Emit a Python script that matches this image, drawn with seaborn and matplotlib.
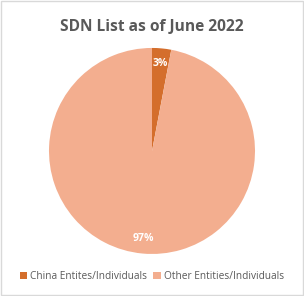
import matplotlib
matplotlib.use("Agg")
import matplotlib.pyplot as plt
import seaborn as sns
from matplotlib.patches import Rectangle

categories = ["China Entites/Individuals", "Other Entities/Individuals"]
values = [3, 97]
title = "SDN List as of June 2022"

sns.set_style("white")
plt.rcParams['font.family'] = ['Open Sans', 'DejaVu Sans']
colors = sns.color_palette(["#D46E2C", "#F3AE8F"])

fig = plt.figure(figsize=(3.04, 2.96), dpi=100)
fig.patch.set_facecolor("white")
ax = fig.add_axes([0.5 - 0.339, 0.49 - 0.348, 0.678, 0.696])

wedges, texts, autotexts = ax.pie(
    values, colors=colors, startangle=90, counterclock=False,
    autopct=lambda p: f"{p:.0f}%", pctdistance=0.85,
    wedgeprops=dict(linewidth=0),
    textprops=dict(color="white", fontsize=7.5, fontweight="bold"))
ax.set_xlim(-1, 1)
ax.set_ylim(-1, 1)
ax.set_aspect("equal")

fig.text(0.5, 0.91, title, ha="center", va="center", fontsize=11.2,
         fontweight="bold", color="#595959")

fig.legend(wedges, categories, loc="center", bbox_to_anchor=(0.5, 0.066),
           ncol=2, frameon=False, fontsize=7.3, handlelength=0.7,
           handleheight=0.7, handletextpad=0.3, columnspacing=0.6,
           labelcolor="#595959")

fig.add_artist(Rectangle((0.003, 0.003), 0.994, 0.994, transform=fig.transFigure,
                         fill=False, edgecolor="#D9D9D9", linewidth=1))
fig.savefig("out.png", dpi=100)
